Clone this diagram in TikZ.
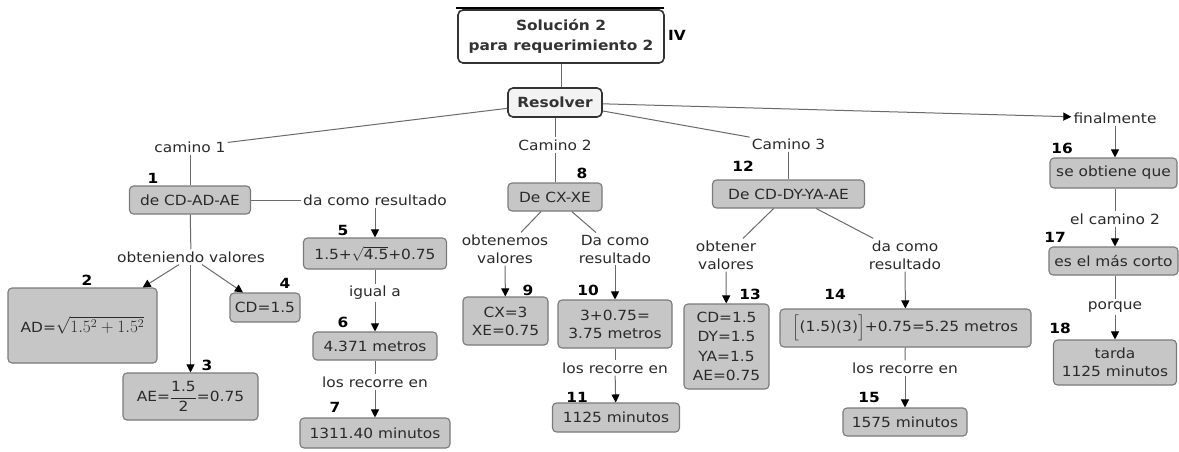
\documentclass[tikz,border=0pt]{standalone}
\usepackage{amsmath}
\usepackage{fontspec}
\setmainfont{DejaVu Sans}[FakeStretch=1.1]
\usetikzlibrary{arrows.meta}

\definecolor{boxfill}{HTML}{C6C6C6}
\definecolor{boxline}{HTML}{7A7A7A}
\definecolor{wire}{HTML}{6A6A6A}
\definecolor{ink}{HTML}{2A2A2A}
\definecolor{headline}{HTML}{333333}
\definecolor{resfill}{HTML}{F3F3F3}

\newcommand{\conceptfont}{\fontsize{14}{18}\selectfont}

\tikzset{
  concept/.style={draw=boxline, fill=boxfill, rounded corners=4pt, line width=1.1pt,
    inner sep=0pt, align=center, text=ink},
  titlebox/.style={draw=headline, fill=white, rounded corners=5pt, line width=1.6pt,
    inner sep=0pt, align=center, text=headline, font=\fontsize{14}{20}\selectfont\bfseries},
  resbox/.style={draw=headline, fill=resfill, rounded corners=5pt, line width=1.6pt,
    inner sep=0pt, align=center, text=headline, font=\conceptfont\bfseries},
  phrase/.style={inner sep=2pt, align=center, text=ink},
  tag/.style={font=\conceptfont\bfseries, inner sep=0pt, text=black},
  link/.style={draw=wire, line width=1pt},
  arrowlink/.style={link, -{Triangle[length=8pt,width=8pt,color=black]}},
}

\begin{document}
\begin{tikzpicture}[x=1pt, y=-1pt, font=\conceptfont]
\useasboundingbox (0,0) rectangle (1179,451);
\fill[white] (0,0) rectangle (1179,451);

% dark rule above the heading
\draw[line width=2.2pt, black] (456,8) -- (664,8);

% heading and root
\node[titlebox, minimum width=206, minimum height=53] (title) at (561,36.5)
  {Solución 2\\para requerimiento 2};
\node[tag] (ivtag) at (677,35) {IV};
\node[resbox, minimum width=94, minimum height=29] (res) at (555,102.5) {Resolver};

% branch labels
\node[phrase] (c1) at (190,147) {camino 1};
\node[phrase] (c2) at (555,145) {Camino 2};
\node[phrase] (c3) at (788.5,144) {Camino 3};
\node[phrase] (fin) at (1115,118) {finalmente};

% path 1
\node[concept, minimum width=121, minimum height=28] (n1) at (190,200) {de CD-AD-AE};
\node[phrase] (dcr1) at (375,200) {da como resultado};
\node[phrase] (ov) at (191,257) {obteniendo valores};
\node[concept, minimum width=149, minimum height=75] (n2) at (82.5,325.5)
  {AD={\fontsize{18}{20}\selectfont$\sqrt{1.5^2+1.5^2}$}};
\node[concept, minimum width=135, minimum height=47] (n3) at (190.5,396.5)
  {AE=$\displaystyle\frac{\mbox{1.5}}{\mbox{2}}$=0.75};
\node[concept, minimum width=70, minimum height=29] (n4) at (265,307.5) {CD=1.5};
\node[concept, minimum width=143, minimum height=31] (n5) at (375,253.5)
  {1.5+$\sqrt{\mbox{4.5}}$+0.75};
\node[phrase] (igual) at (375,293) {igual a};
\node[concept, minimum width=124, minimum height=28] (n6) at (375,346) {4.371 metros};
\node[phrase] (lre1) at (375,382) {los recorre en};
\node[concept, minimum width=150, minimum height=30] (n7) at (375,433) {1311.40 minutos};

% path 2
\node[concept, minimum width=94, minimum height=28] (n8) at (555,197) {De CX-XE};
\node[phrase] (obtv) at (505,249) {obtenemos\\valores};
\node[phrase] (dcr2) at (615,249) {Da como\\resultado};
\node[concept, minimum width=85, minimum height=48] (n9) at (505.5,321) {CX=3\\XE=0.75};
\node[concept, minimum width=114, minimum height=48] (n10) at (615,324) {3+0.75=\\3.75 metros};
\node[phrase] (lre2) at (615,368) {los recorre en};
\node[concept, minimum width=127, minimum height=29] (n11) at (616,417.5) {1125 minutos};

% path 3
\node[concept, minimum width=152, minimum height=28] (n12) at (788.5,194) {De CD-DY-YA-AE};
\node[phrase] (oval3) at (726,255) {obtener\\valores};
\node[phrase] (dcr3) at (905,255) {da como\\resultado};
\node[concept, minimum width=85, minimum height=85, font=\fontsize{14}{19.5}\selectfont]
  (n13) at (726.5,346.5) {CD=1.5\\DY=1.5\\YA=1.5\\AE=0.75};
\node[concept, minimum width=251, minimum height=38] (n14) at (905.5,328)
  {$\Big[$(1.5)(3)$\Big]$+0.75=5.25 metros};
\node[phrase] (lre3) at (905,368) {los recorre en};
\node[concept, minimum width=124, minimum height=28] (n15) at (905,422) {1575 minutos};

% conclusion
\node[concept, minimum width=127, minimum height=30] (n16) at (1113.5,173) {se obtiene que};
\node[phrase] (cam2) at (1115,219) {el camino 2};
\node[concept, minimum width=129, minimum height=28] (n17) at (1113.5,261) {es el más corto};
\node[phrase] (porque) at (1115,307) {porque};
\node[concept, minimum width=123, minimum height=45] (n18) at (1115,362.5) {tarda\\1125 minutos};

% numbering
\node[tag] (t1) at (153,178) {1};
\node[tag] (t2) at (87,280) {2};
\node[tag] (t3) at (207,365) {3};
\node[tag] (t4) at (285,283) {4};
\node[tag] (t5) at (343,230) {5};
\node[tag] (t6) at (343,322) {6};
\node[tag] (t7) at (335,407) {7};
\node[tag] (t8) at (582,173) {8};
\node[tag] (t9) at (528,290) {9};
\node[tag] (t10) at (588,290) {10};
\node[tag] (t11) at (577,397) {11};
\node[tag] (t12) at (743,166) {12};
\node[tag] (t13) at (750,294) {13};
\node[tag] (t14) at (835,294) {14};
\node[tag] (t15) at (869,397) {15};
\node[tag] (t16) at (1062,148) {16};
\node[tag] (t17) at (1055,237) {17};
\node[tag] (t18) at (1060,328) {18};

% connectors from the root
\draw[link] (title.south) -- (title.south |- res.north);
\draw[link] (res) -- (c1);
\draw[link] (res.south) -- (c2);
\draw[link] (res) -- (c3);
\draw[arrowlink] (res) -- (fin);

% path 1 connectors
\draw[link] (c1) -- (n1);
\draw[link] (n1) -- (dcr1);
\draw[arrowlink] (dcr1) -- (n5);
\draw[link] (n1) -- (ov);
\draw[arrowlink] (ov) -- (n2);
\draw[arrowlink] (ov.south -| n3.north) -- (n3.north);
\draw[arrowlink] (ov) -- (n4);
\draw[link] (n5) -- (igual);
\draw[arrowlink] (igual) -- (n6);
\draw[link] (n6) -- (lre1);
\draw[arrowlink] (lre1) -- (n7);

% path 2 connectors
\draw[link] (c2) -- (n8);
\draw[link] (n8) -- (obtv);
\draw[arrowlink] (obtv) -- (n9);
\draw[link] (n8) -- (dcr2);
\draw[arrowlink] (dcr2) -- (n10);
\draw[link] (n10) -- (lre2);
\draw[arrowlink] (lre2) -- (n11);

% path 3 connectors
\draw[link] (c3) -- (n12);
\draw[link] (n12) -- (oval3);
\draw[arrowlink] (oval3) -- (n13);
\draw[link] (n12) -- (dcr3);
\draw[arrowlink] (dcr3) -- (n14);
\draw[link] (n14) -- (lre3);
\draw[arrowlink] (lre3) -- (n15);

% conclusion connectors
\draw[arrowlink] (fin.south) -- (fin.south |- n16.north);
\draw[link] (cam2.north |- n16.south) -- (cam2.north);
\draw[arrowlink] (cam2.south) -- (cam2.south |- n17.north);
\draw[link] (porque.north |- n17.south) -- (porque.north);
\draw[arrowlink] (porque) -- (n18);
\end{tikzpicture}
\end{document}
